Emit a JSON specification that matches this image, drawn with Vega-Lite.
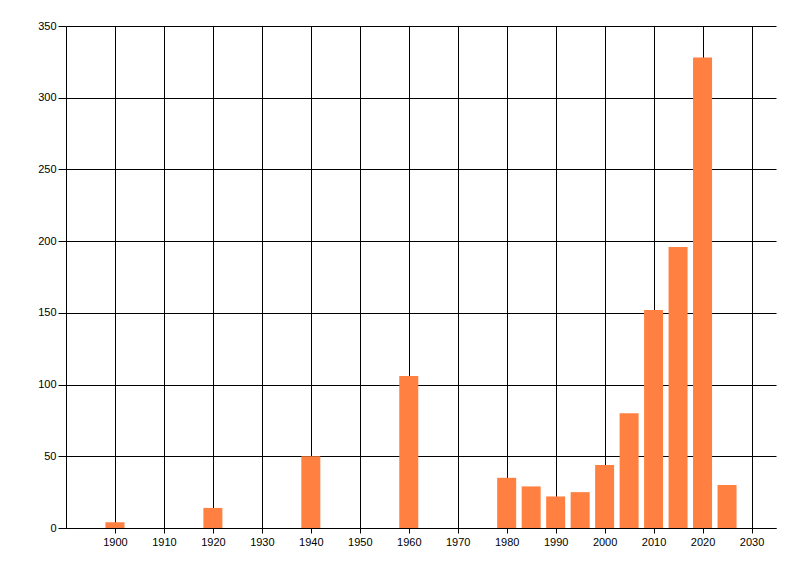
{
  "$schema": "https://vega.github.io/schema/vega-lite/v6.json",
  "width": 710,
  "height": 502,
  "autosize": {"type": "none"},
  "padding": {"left": 66, "top": 26, "right": 24, "bottom": 48},
  "background": "white",
  "config": {
    "view": {"stroke": null},
    "axis": {
      "labelFont": "Liberation Sans",
      "labelFontSize": 11,
      "labelColor": "black",
      "domainColor": "black",
      "tickColor": "black",
      "gridColor": "black",
      "gridOpacity": 1,
      "gridWidth": 1,
      "domainWidth": 1,
      "tickWidth": 1,
      "title": null
    }
  },
  "data": {
    "values": [
      {"year": 1900, "count": 4},
      {"year": 1920, "count": 14},
      {"year": 1940, "count": 50},
      {"year": 1960, "count": 106},
      {"year": 1980, "count": 35},
      {"year": 1985, "count": 29},
      {"year": 1990, "count": 22},
      {"year": 1995, "count": 25},
      {"year": 2000, "count": 44},
      {"year": 2005, "count": 80},
      {"year": 2010, "count": 152},
      {"year": 2015, "count": 196},
      {"year": 2020, "count": 328},
      {"year": 2025, "count": 30}
    ]
  },
  "mark": {"type": "bar", "width": 19, "color": "#FF8040"},
  "encoding": {
    "x": {
      "field": "year",
      "type": "quantitative",
      "scale": {"domain": [1890, 2035], "nice": false, "zero": false, "padding": 0},
      "axis": {
        "values": [1900, 1910, 1920, 1930, 1940, 1950, 1960, 1970, 1980, 1990, 2000, 2010, 2020, 2030],
        "format": "d",
        "tickSize": 5,
        "labelPadding": 3,
        "grid": true,
        "labelFlush": false
      }
    },
    "y": {
      "field": "count",
      "type": "quantitative",
      "scale": {"domain": [0, 350], "nice": false},
      "axis": {
        "values": [0, 50, 100, 150, 200, 250, 300, 350],
        "tickSize": 8,
        "labelPadding": 2,
        "grid": true,
        "labelFlush": false
      }
    }
  }
}
